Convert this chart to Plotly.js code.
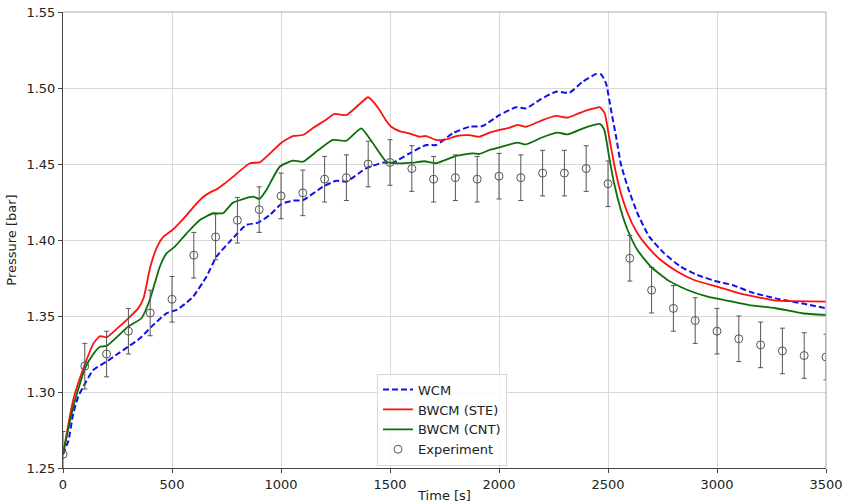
<!DOCTYPE html>
<html>
<head>
<meta charset="utf-8">
<script src="https://cdn.plot.ly/plotly-3.0.1.min.js"></script>
<style>
  html, body { margin: 0; padding: 0; background: #fff; }
  #chart { width: 845px; height: 503px; }
</style>
</head>
<body>
<div id="chart"></div>
<script>
// WCM model
const wcmTime = [0, 25, 47, 70, 93, 139, 200, 250, 299, 353, 406, 475, 521, 560, 597, 658, 704, 765, 841, 895, 948, 1002, 1055, 1101, 1193, 1254, 1300, 1391, 1467, 1513, 1590, 1666, 1712, 1788, 1864, 1925, 2002, 2078, 2124, 2185, 2262, 2323, 2384, 2445, 2468, 2491, 2514, 2537, 2559, 2590, 2635, 2689, 2758, 2834, 2910, 3000, 3071, 3160, 3269, 3400, 3500];
const wcmP    = [1.259, 1.268, 1.286, 1.297, 1.3035, 1.3145, 1.320, 1.325, 1.3298, 1.3353, 1.343, 1.3518, 1.354, 1.358, 1.3627, 1.3759, 1.389, 1.3989, 1.4099, 1.4114, 1.4164, 1.4237, 1.4259, 1.4263, 1.4351, 1.439, 1.4384, 1.4472, 1.4509, 1.4509, 1.457, 1.4625, 1.4625, 1.4702, 1.4745, 1.475, 1.4822, 1.4873, 1.4866, 1.4921, 1.4976, 1.4969, 1.5041, 1.5092, 1.509, 1.503, 1.4855, 1.468, 1.450, 1.435, 1.4176, 1.4022, 1.3912, 1.3824, 1.377, 1.3727, 1.3704, 1.3655, 1.3616, 1.358, 1.3551];

// BWCM (STE) model
const steTime = [0, 47, 100, 140, 170, 200, 250, 300, 345, 370, 400, 430, 460, 505, 567, 600, 640, 681, 704, 740, 780, 857, 902, 950, 1002, 1055, 1101, 1150, 1200, 1246, 1300, 1361, 1399, 1420, 1452, 1480, 1506, 1540, 1590, 1635, 1666, 1712, 1758, 1804, 1864, 1910, 1956, 2002, 2050, 2086, 2124, 2200, 2262, 2315, 2360, 2399, 2437, 2464, 2485, 2505, 2528, 2551, 2590, 2635, 2681, 2742, 2819, 2895, 3000, 3100, 3200, 3270, 3350, 3500];
const steP    = [1.259, 1.295, 1.318, 1.332, 1.3368, 1.336, 1.342, 1.3485, 1.355, 1.362, 1.382, 1.395, 1.402, 1.407, 1.4164, 1.422, 1.428, 1.4318, 1.4333, 1.437, 1.4416, 1.4505, 1.4511, 1.457, 1.464, 1.4684, 1.4691, 1.474, 1.4785, 1.4829, 1.4822, 1.4895, 1.4939, 1.4915, 1.4855, 1.479, 1.4745, 1.4718, 1.470, 1.468, 1.4684, 1.4658, 1.4662, 1.4684, 1.469, 1.468, 1.4706, 1.4724, 1.474, 1.4757, 1.4745, 1.4789, 1.4816, 1.4805, 1.483, 1.4851, 1.4866, 1.4873, 1.4833, 1.468, 1.450, 1.435, 1.4176, 1.4044, 1.3956, 1.3868, 1.3791, 1.3737, 1.3693, 1.365, 1.362, 1.3601, 1.3598, 1.3594];

// BWCM (CNT) model
const cntTime = [0, 47, 101, 139, 170, 200, 299, 360, 398, 444, 475, 513, 567, 628, 689, 734, 780, 872, 902, 933, 994, 1055, 1101, 1170, 1238, 1300, 1368, 1422, 1483, 1529, 1605, 1658, 1712, 1804, 1880, 1910, 1956, 2002, 2086, 2124, 2200, 2269, 2315, 2399, 2464, 2483, 2505, 2528, 2559, 2590, 2635, 2697, 2773, 2865, 2957, 3033, 3071, 3147, 3269, 3391, 3500];
const cntP    = [1.259, 1.2903, 1.3156, 1.325, 1.3298, 1.3303, 1.343, 1.3485, 1.3605, 1.3824, 1.3912, 1.3956, 1.4044, 1.4132, 1.4176, 1.4176, 1.4246, 1.4285, 1.427, 1.4329, 1.4482, 1.4522, 1.4515, 1.459, 1.4658, 1.4653, 1.4735, 1.4636, 1.4515, 1.4505, 1.4509, 1.4518, 1.4505, 1.4553, 1.457, 1.4566, 1.4592, 1.461, 1.464, 1.4629, 1.4676, 1.4706, 1.4695, 1.4741, 1.4763, 1.4724, 1.4548, 1.4373, 1.4197, 1.4066, 1.3934, 1.3824, 1.3737, 1.3671, 1.3627, 1.3605, 1.3594, 1.3572, 1.3551, 1.3518, 1.3507];

// Measurements with uncertainty
const expTime = [0, 100, 200, 300, 400, 500, 600, 700, 800, 900, 1000, 1100, 1200, 1300, 1400, 1500, 1600, 1700, 1800, 1900, 2000, 2100, 2200, 2300, 2400, 2500, 2600, 2700, 2800, 2900, 3000, 3100, 3200, 3300, 3400, 3500];
const expP    = [1.259, 1.317, 1.325, 1.340, 1.352, 1.361, 1.390, 1.402, 1.413, 1.420, 1.429, 1.431, 1.440, 1.441, 1.450, 1.451, 1.447, 1.440, 1.441, 1.440, 1.442, 1.441, 1.444, 1.444, 1.447, 1.437, 1.388, 1.367, 1.355, 1.347, 1.340, 1.335, 1.331, 1.327, 1.324, 1.323];
const expErr  = [0.015, 0.015, 0.015, 0.015, 0.015, 0.015, 0.015, 0.015, 0.015, 0.015, 0.015, 0.015, 0.015, 0.015, 0.015, 0.015, 0.015, 0.015, 0.015, 0.015, 0.015, 0.015, 0.015, 0.015, 0.015, 0.015, 0.015, 0.015, 0.015, 0.015, 0.015, 0.015, 0.015, 0.015, 0.015, 0.015];

const xTicks = [0, 500, 1000, 1500, 2000, 2500, 3000, 3500];
const yTicks = [1.25, 1.30, 1.35, 1.40, 1.45, 1.50, 1.55];

const FONT = 'DejaVu Sans, sans-serif';

const traces = [
  {
    x: wcmTime, y: wcmP, name: 'WCM', mode: 'lines', type: 'scatter',
    line: { color: '#1010ee', width: 2, dash: '6px,3px', shape: 'spline', smoothing: 0.5 }
  },
  {
    x: steTime, y: steP, name: 'BWCM (STE)', mode: 'lines', type: 'scatter',
    line: { color: '#ff1010', width: 1.8, shape: 'spline', smoothing: 0.5 }
  },
  {
    x: cntTime, y: cntP, name: 'BWCM (CNT)', mode: 'lines', type: 'scatter',
    line: { color: '#0a6e0a', width: 1.8, shape: 'spline', smoothing: 0.5 }
  },
  {
    x: expTime, y: expP, name: 'Experiment', mode: 'markers', type: 'scatter',
    marker: { symbol: 'circle-open', size: 8, color: '#555', line: { width: 1, color: '#555' } },
    error_y: { type: 'data', array: expErr, visible: true, color: '#555', thickness: 1, width: 2.5 }
  }
];

const layout = {
  width: 845, height: 503,
  margin: { l: 63, r: 19, t: 12, b: 35 },
  paper_bgcolor: '#ffffff', plot_bgcolor: '#ffffff',
  font: { family: FONT, size: 13, color: '#222' },
  showlegend: true,
  legend: {
    x: 0.4115, y: 0.207, xanchor: 'left', yanchor: 'top',
    bgcolor: 'rgba(255,255,255,0.85)', bordercolor: '#d8d8d8', borderwidth: 1,
    font: { family: FONT, size: 13, color: '#222' },
    tracegroupgap: 0, itemwidth: 30
  },
  xaxis: {
    range: [0, 3500], tickvals: xTicks, ticktext: xTicks.map(String),
    showgrid: true, gridcolor: '#d9d9d9', gridwidth: 1,
    zeroline: false, showline: true, linecolor: '#444', linewidth: 1,
    ticks: 'outside', ticklen: 4, tickcolor: '#444',
    tickfont: { family: FONT, size: 13, color: '#222' },
    title: { text: 'Time [s]', font: { family: FONT, size: 13, color: '#222' }, standoff: 2 }
  },
  yaxis: {
    range: [1.25, 1.55], tickvals: yTicks, ticktext: yTicks.map(v => v.toFixed(2)),
    showgrid: true, gridcolor: '#d9d9d9', gridwidth: 1,
    zeroline: false, showline: true, linecolor: '#444', linewidth: 1,
    ticks: 'outside', ticklen: 4, tickcolor: '#444',
    tickfont: { family: FONT, size: 13, color: '#222' },
    title: { text: 'Pressure [bar]', font: { family: FONT, size: 13, color: '#222' }, standoff: 6 }
  },
  shapes: [
    { type: 'line', xref: 'paper', yref: 'paper', x0: 0, x1: 1, y0: 1, y1: 1, line: { color: '#aaaaaa', width: 1 } },
    { type: 'line', xref: 'paper', yref: 'paper', x0: 1, x1: 1, y0: 0, y1: 1, line: { color: '#aaaaaa', width: 1 } }
  ]
};

Plotly.newPlot('chart', traces, layout, { displayModeBar: false, staticPlot: true });
</script>
</body>
</html>
